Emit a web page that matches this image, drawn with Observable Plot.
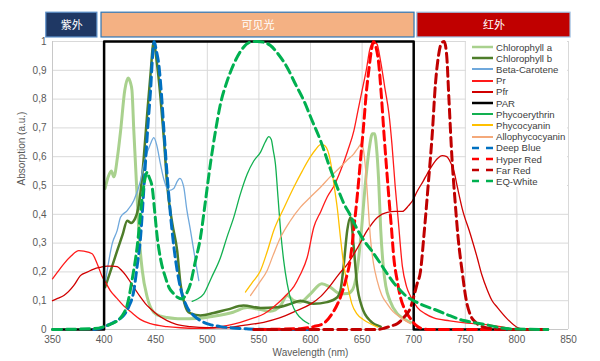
<!DOCTYPE html>
<html><head><meta charset="utf-8">
<script src="https://cdn.jsdelivr.net/npm/d3@7"></script>
<script src="https://cdn.jsdelivr.net/npm/@observablehq/plot@0.6"></script>
<style>
body{margin:0;background:#fff;}
#wrap{position:relative;width:600px;height:361px;font-family:"Liberation Sans",Arial,sans-serif;}
#legend{position:absolute;left:466px;top:41px;width:101px;height:146px;background:#fff;}
.row{position:absolute;left:0;height:11px;display:flex;align-items:center;font-size:9.6px;color:#404040;white-space:nowrap;}
.row svg{margin-left:6px;margin-right:3px;}
</style>
</head><body><div id="wrap"></div>
<script>
// ---- axes ----
const xTicks = [350,400,450,500,550,600,650,700,750,800,850];
const yTicks = [0,0.1,0.2,0.3,0.4,0.5,0.6,0.7,0.8,0.9,1];
const yTickLabels = ["0","0,1","0,2","0,3","0,4","0,5","0,6","0,7","0,8","0,9","1"];

// ---- spectral bands ----
const bandLabels = ["紫外","可见光","红外"];
const bandStart = [344, 397.5, 703.5];
const bandEnd = [393.5, 700.8, 852];

// ---- series (wavelength nm, absorption) ----
const chlorophyllA = [[401,0.49],[404,0.53],[407,0.55],[409.5,0.53],[413,0.6],[416,0.69],[420,0.83],[423.3,0.873],[425.6,0.856],[427,0.83],[428.8,0.69],[430.4,0.576],[432,0.46],[433.6,0.344],[437,0.205],[441.8,0.112],[448,0.06],[455,0.046],[461,0.042],[474,0.037],[490,0.038],[506,0.046],[525,0.06],[538.6,0.076],[551.6,0.069],[561,0.063],[571,0.083],[577.4,0.118],[584,0.1],[590,0.095],[600,0.124],[611,0.159],[619,0.147],[629,0.124],[636,0.125],[641,0.14],[645,0.2],[649,0.33],[653,0.5],[657,0.63],[660,0.68],[662,0.68],[664,0.63],[666,0.52],[668,0.35],[670.5,0.22],[673,0.15],[677,0.1],[684,0.055],[690,0.038],[697,0.025]];
const chlorophyllB = [[401,0.147],[406,0.2],[412.7,0.274],[418,0.33],[422.4,0.378],[426,0.37],[430,0.385],[433,0.42],[436,0.5],[438.5,0.6],[442,0.76],[445,0.888],[448,0.998],[451,0.93],[454.6,0.807],[458,0.66],[461,0.506],[466,0.37],[470.8,0.274],[474,0.159],[477.2,0.1],[480.5,0.066],[484,0.056],[493.4,0.049],[506,0.057],[520,0.07],[535,0.083],[551.6,0.075],[567.7,0.077],[580.6,0.089],[590.3,0.1],[603,0.089],[616,0.095],[626,0.112],[629,0.135],[632.3,0.228],[635.6,0.344],[638.8,0.39],[641.9,0.286],[645,0.159],[650,0.077],[658,0.03],[668,0.01]];
const betaCarotene = [[401,0.159],[403,0.205],[408,0.3],[412.7,0.344],[415.9,0.39],[422.4,0.413],[428.8,0.448],[435.3,0.517],[438.5,0.575],[445,0.645],[448.2,0.666],[451,0.64],[454.6,0.575],[458,0.52],[462.7,0.483],[467.5,0.49],[471,0.515],[473.4,0.525],[477.2,0.494],[480,0.42],[483.7,0.344],[488,0.25],[491.8,0.17]];
const pr = [[350,0.176],[355,0.2],[361,0.228],[368,0.255],[375.5,0.274],[380.4,0.272],[388.4,0.263],[393.3,0.228],[398,0.185],[402,0.16],[406,0.135],[412,0.11],[419,0.082],[428,0.055],[435,0.035],[445,0.02],[461,0.01],[474,0.006],[490,0.004],[506,0.006],[520,0.014],[532,0.025],[545,0.04],[554.7,0.054],[563,0.075],[571,0.1],[578,0.125],[584,0.15],[590,0.19],[596.8,0.25],[603.2,0.355],[610,0.41],[616.2,0.46],[623,0.5],[629,0.55],[636,0.62],[642,0.69],[646,0.76],[650,0.83],[654,0.9],[658,0.98],[662,1.0],[664.6,0.99],[668,0.93],[672,0.84],[676,0.75],[679,0.64],[682,0.5],[685,0.38],[689,0.22],[693,0.15],[697,0.115],[703.4,0.077],[711,0.055],[719.5,0.04],[735,0.03],[751.8,0.022],[771,0.017],[784,0.01],[793.8,0.003],[805,0]];
const pfr = [[350,0.1],[355,0.108],[361,0.118],[370.7,0.153],[377,0.187],[384,0.2],[390,0.21],[396.5,0.216],[403,0.22],[408,0.22],[412.7,0.218],[417,0.205],[420.7,0.19],[425.6,0.164],[430,0.14],[435.3,0.112],[440,0.09],[445,0.072],[452,0.05],[461,0.031],[470,0.018],[483.7,0.01],[500,0.006],[516,0.006],[535,0.014],[554.7,0.025],[570,0.04],[587,0.066],[600,0.088],[610,0.115],[618,0.147],[627,0.19],[636,0.228],[645,0.28],[655,0.344],[665,0.39],[674.3,0.407],[682,0.41],[689,0.41],[695,0.43],[699,0.448],[703.4,0.48],[709.5,0.517],[713,0.54],[718,0.57],[722.8,0.593],[727.6,0.604],[732,0.6],[735.7,0.58],[739,0.55],[742,0.5],[747,0.42],[755,0.33],[761.5,0.25],[766,0.19],[771,0.14],[776,0.1],[781,0.077],[790.6,0.037],[800,0.008],[806,0]];
const par = [[350,0],[400,0],[400,1],[700,1],[700,0],[830,0]];
const phycoerythrin = [[485.3,0.098],[490,0.105],[496.6,0.124],[504,0.18],[512.8,0.25],[519,0.32],[525.7,0.39],[532,0.47],[538.7,0.54],[545,0.585],[551.6,0.616],[556,0.65],[559.6,0.67],[562,0.66],[564,0.62],[566,0.575],[568.5,0.46],[571,0.344],[574,0.24],[577.4,0.159],[582,0.09],[587,0.054],[592,0.035],[598.4,0.02]];
const phycocyanin = [[537,0.13],[544,0.165],[551.6,0.205],[558,0.27],[564.4,0.344],[574,0.42],[583.8,0.494],[592,0.55],[600,0.6],[605,0.625],[609.7,0.642],[613,0.64],[617.7,0.61],[620,0.57],[622.6,0.506],[626,0.42],[629,0.32],[632,0.23],[635.6,0.159],[640,0.09],[645,0.054],[651,0.035],[658,0.02],[665,0.008]];
const allophycocyanin = [[541.9,0.118],[550,0.16],[558,0.205],[564,0.26],[571,0.32],[580,0.375],[590.3,0.425],[600,0.46],[609.7,0.494],[619,0.53],[629,0.564],[636,0.59],[642,0.61],[646,0.63],[649.5,0.645],[651.5,0.62],[653.3,0.56],[655.5,0.45],[658,0.32],[661,0.23],[664.6,0.17],[669,0.12],[674.3,0.089],[680,0.062],[687,0.043],[697,0.02]];
const deepBlue = [[390,0],[396,0.004],[403,0.014],[412,0.03],[419,0.049],[424,0.08],[428.8,0.135],[432,0.22],[435.3,0.32],[438,0.46],[440,0.575],[442.5,0.71],[445,0.83],[447,0.95],[448.5,1.0],[450.5,0.97],[453,0.92],[455.5,0.82],[458,0.69],[461,0.54],[464.3,0.4],[467.5,0.29],[470.8,0.205],[475,0.13],[480.5,0.077],[487,0.048],[493.4,0.031],[502,0.018],[512.8,0.01],[525,0.005],[540,0.002],[560,0],[600,0]];
const hyperRed = [[548,0],[590,0.003],[603,0.01],[613,0.022],[620,0.05],[625,0.08],[629,0.112],[634,0.17],[638.8,0.25],[642,0.35],[645.2,0.46],[648.5,0.59],[651.6,0.714],[654,0.82],[656.5,0.9],[659,0.97],[661,1.0],[663.5,0.98],[666.2,0.92],[668.5,0.82],[671,0.69],[673.5,0.57],[675.9,0.46],[678.5,0.35],[680.7,0.25],[684,0.17],[687.2,0.112],[692,0.065],[697,0.037],[702,0.015],[706.6,0.005],[715,0],[830,0]];
const farRed = [[545,0],[665,0],[672,0.005],[678,0.012],[684,0.02],[690,0.04],[697,0.077],[700.5,0.12],[703.4,0.16],[706.5,0.2],[710,0.33],[714,0.5],[718,0.68],[721,0.85],[724,0.95],[727,0.995],[729.5,1.0],[732,0.95],[734,0.81],[737,0.6],[740,0.45],[743,0.32],[747,0.2],[751,0.1],[755,0.05],[760,0.025],[765,0.012],[775,0.003],[790,0],[830,0]];
const eqWhite = [[350,0],[390,0.003],[400,0.01],[406,0.018],[412.7,0.03],[418,0.05],[422.4,0.085],[427,0.17],[432,0.286],[437,0.46],[440,0.53],[441.8,0.546],[443.5,0.53],[446.6,0.494],[449,0.41],[451.5,0.32],[455,0.24],[459.5,0.18],[463,0.145],[467.5,0.124],[471,0.112],[475.7,0.106],[479,0.12],[483.7,0.159],[488,0.23],[493.4,0.32],[498,0.44],[503,0.575],[508,0.69],[512.8,0.784],[519,0.86],[525.7,0.922],[533,0.97],[541.9,0.998],[548.4,1.0],[555,0.997],[561.2,0.986],[569,0.955],[577.4,0.91],[585,0.855],[593.5,0.795],[601,0.73],[609.7,0.656],[618,0.57],[625.9,0.494],[632,0.44],[638.8,0.395],[645,0.35],[651.6,0.31],[660,0.27],[668,0.228],[675,0.19],[681,0.16],[687.2,0.135],[693,0.115],[700,0.1],[710,0.083],[722.8,0.066],[735,0.048],[748.5,0.031],[760,0.023],[771,0.016],[784,0.006],[795,0.002],[830,0]];

const seriesNames = ["Chlorophyll a","Chlorophyll b","Beta-Carotene","Pr","Pfr","PAR","Phycoerythrin","Phycocyanin","Allophycocyanin","Deep Blue","Hyper Red","Far Red","EQ-White"];
const seriesData = [chlorophyllA,chlorophyllB,betaCarotene,pr,pfr,par,phycoerythrin,phycocyanin,allophycocyanin,deepBlue,hyperRed,farRed,eqWhite];

// ---- styles ----
const seriesStyle = [
  {color:"#a9d18e", width:3},
  {color:"#4e7d2a", width:2.5},
  {color:"#6fa8dc", width:1.3},
  {color:"#ff1a1a", width:1.3},
  {color:"#d00000", width:1.3},
  {color:"#000000", width:2.5, linear:true},
  {color:"#12b050", width:1.3},
  {color:"#ffc000", width:1.3},
  {color:"#f4a97a", width:1.3},
  {color:"#0070c0", width:3, dash:"9,5"},
  {color:"#ff0000", width:3, dash:"9,5"},
  {color:"#c00000", width:3, dash:"9,5"},
  {color:"#00b050", width:3, dash:"9,5"}
];
const bandStyle = [
  {fill:"#1f3864", stroke:"#5b8fc9"},
  {fill:"#f4b183", stroke:"#2e75b6"},
  {fill:"#c00000", stroke:"#9dc3e6"}
];

const bands = bandLabels.map((l,i)=>({label:l, x1:bandStart[i], x2:bandEnd[i], i}));

const lineMarks = seriesData.map((data,i)=>Plot.line(data,{
  x:d=>d[0], y:d=>d[1],
  stroke:seriesStyle[i].color,
  strokeWidth:seriesStyle[i].width,
  strokeDasharray:seriesStyle[i].dash,
  strokeLinejoin:"round",
  curve:seriesStyle[i].linear?"linear":"monotone-x"
}));

const chart = Plot.plot({
  width:600, height:361,
  marginLeft:52, marginRight:32, marginTop:41, marginBottom:32,
  style:{fontFamily:'"Liberation Sans",Arial,sans-serif', background:"#fff", overflow:"visible"},
  x:{domain:[350,850]},
  y:{domain:[0,1]},
  marks:[
    Plot.gridX(xTicks,{stroke:"#d9d9d9", strokeOpacity:1}),
    Plot.gridY(yTicks,{stroke:"#d9d9d9", strokeOpacity:1}),
    Plot.ruleX([350],{stroke:"#c8c8c8"}),
    Plot.ruleY([0],{stroke:"#c8c8c8"}),
    Plot.axisX({ticks:xTicks, tickSize:0, tickPadding:6, fontSize:10, fill:"#595959", label:null}),
    Plot.axisY({ticks:yTicks, tickSize:0, tickPadding:6, fontSize:10, fill:"#595959", label:null,
      tickFormat:v=>yTickLabels[yTicks.findIndex(t=>Math.abs(t-v)<1e-9)]}),
    Plot.text(["Wavelength (nm)"],{frameAnchor:"bottom", dy:26, fontSize:10, fill:"#595959"}),
    Plot.text(["Absorption (a.u.)"],{frameAnchor:"left", dx:-31, rotate:-90, fontSize:10, fill:"#595959"}),
    ...lineMarks,
    Plot.rect(bands,{x1:"x1", x2:"x2", y1:1.014, y2:1.1,
      fill:d=>bandStyle[d.i].fill, stroke:d=>bandStyle[d.i].stroke, strokeWidth:1.2}),
    Plot.text(bands,{x:d=>(d.x1+d.x2)/2, y:1.057, text:"label", fill:"#fff", fontSize:11,
      fontFamily:'"Noto Sans CJK SC",sans-serif'})
  ]
});

const wrap = document.getElementById("wrap");
wrap.appendChild(chart);

// legend
const legend = document.createElement("div");
legend.id = "legend";
seriesNames.forEach((name,i)=>{
  const st = seriesStyle[i];
  const row = document.createElement("div");
  row.className = "row";
  row.style.top = (0.5 + i*11.2) + "px";
  const w = Math.min(Math.max(st.width,2),2.5);
  row.innerHTML = `<svg width="21" height="6"><line x1="0" x2="21" y1="3" y2="3" stroke="${st.color}" stroke-width="${w}" ${st.dash?'stroke-dasharray="7,7"':''}/></svg><span>${name}</span>`;
  legend.appendChild(row);
});
wrap.appendChild(legend);
</script>
</body></html>
